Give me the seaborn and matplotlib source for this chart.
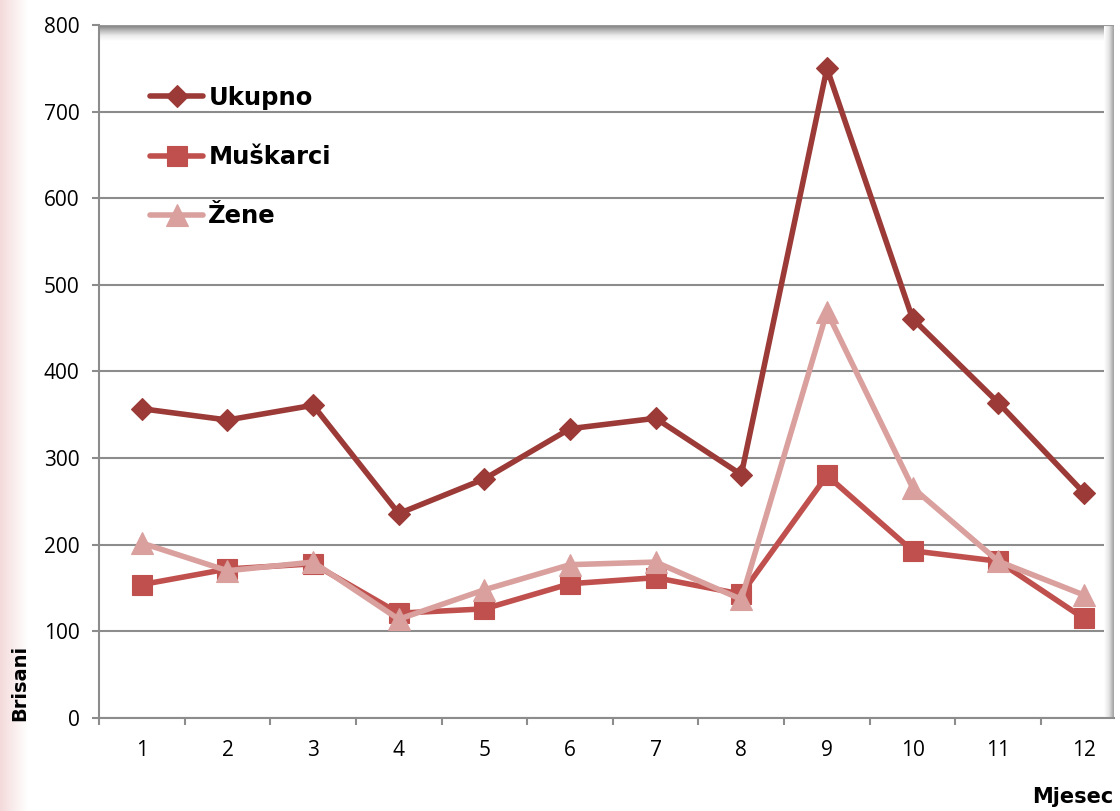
import numpy as np
import pandas as pd
import matplotlib
matplotlib.use("Agg")
import matplotlib.pyplot as plt
import seaborn as sns
from matplotlib.colors import LinearSegmentedColormap

months = list(range(1, 13))
month_labels = [str(m) for m in months]
ukupno = [357, 344, 361, 236, 276, 334, 346, 281, 750, 461, 364, 260]
muskarci = [154, 172, 178, 121, 126, 155, 162, 143, 280, 193, 181, 115]
zene = [202, 170, 180, 114, 148, 177, 180, 137, 469, 266, 181, 142]
series_names = ["Ukupno", "Muškarci", "Žene"]
y_ticks = [0, 100, 200, 300, 400, 500, 600, 700, 800]

sns.set_theme(style="white")
plt.rcParams["font.family"] = ["Open Sans", "DejaVu Sans"]
plt.rcParams["text.color"] = "black"

W, H = 1120, 811
fig = plt.figure(figsize=(W / 100, H / 100), dpi=100)

# left pink band
band = fig.add_axes([0, 0, 28 / W, 1])
g = np.linspace(0, 1, 100)[None, :]
pcmap = LinearSegmentedColormap.from_list("p", ["#f4dada", "#faeded", "#ffffff"])
band.imshow(g, cmap=pcmap, aspect="auto", extent=[0, 1, 0, 1])
band.set_axis_off()

ax_l, ax_r, ax_t, ax_b = 99, 1114, 25, 718
ax = fig.add_axes([ax_l / W, 1 - ax_b / H, (ax_r - ax_l) / W, (ax_b - ax_t) / H])

colors = ["#9b3a37", "#c0504d", "#d9a09e"]
markers = ["D", "s", "^"]
msizes = [11, 15, 16]
data = [ukupno, muskarci, zene]
for name, vals, c, m, ms in zip(series_names, data, colors, markers, msizes):
    sns.lineplot(x=months, y=vals, ax=ax, color=c, marker=m, markersize=ms,
                 markeredgecolor=c, markeredgewidth=0.8, linewidth=4.0,
                 label=name, zorder=3, solid_capstyle="round", solid_joinstyle="round")

x0 = 0.5
x1 = x0 + (ax_r - ax_l) / 85.64

grid_c = "#8c8c8c"
ax.set_yticks(y_ticks)
ax.set_yticklabels([str(v) for v in y_ticks])
ax.yaxis.grid(True, color=grid_c, linewidth=1.5, zorder=1)
ax.xaxis.grid(False)
ax.set_axisbelow(True)

ax.set_xticks(months)
ax.set_xticklabels(month_labels)
ax.set_xticks([i + 0.5 for i in range(0, 12)], minor=True)
ax.tick_params(axis="x", which="major", length=0, pad=16, labelsize=15, labelcolor="black")
ax.tick_params(axis="x", which="minor", length=5, width=1.5, color=grid_c, direction="out", bottom=True)
ax.tick_params(axis="y", which="major", length=5, width=1.5, color=grid_c, direction="out",
               left=True, pad=9, labelsize=15, labelcolor="black")

for s in ["left", "bottom"]:
    ax.spines[s].set_color(grid_c)
    ax.spines[s].set_linewidth(1.5)
ax.spines["top"].set_visible(False)
ax.spines["right"].set_visible(False)
ax.set_xlabel("")
ax.set_ylabel("")

# top shadow
gy = np.linspace(0, 1, 100)[:, None]
scmap = LinearSegmentedColormap.from_list("s", ["#7a7a7a", "#b8b8b8", "#ececec", "#ffffff"])
ax.imshow(gy, cmap=scmap, aspect="auto", extent=[0, 1, 1 - 16 / 693, 1],
          transform=ax.transAxes, zorder=1.5)
ax.axhline(800, color="#9a9a9a", linewidth=1.5, zorder=2)
# right shadow
gx = np.linspace(0, 1, 100)[None, :]
scmap2 = LinearSegmentedColormap.from_list("s2", ["#ffffff", "#e4e4e4", "#a0a0a0"])
ax.imshow(gx, cmap=scmap2, aspect="auto", extent=[1 - 10 / 1015, 1, 0, 1],
          transform=ax.transAxes, zorder=1.5)
ax.set_xlim(x0, x1)
ax.set_ylim(0, 800)

leg = ax.legend(loc="upper left", bbox_to_anchor=((150 - ax_l) / (ax_r - ax_l), (718 - 86) / 693),
                frameon=False, borderpad=0, borderaxespad=0, handlelength=2.2,
                handletextpad=0.2, labelspacing=1.45,
                prop={"family": "DejaVu Sans", "weight": "bold", "size": 17.5})
for t in leg.get_texts():
    t.set_color("black")

fig.text(20 / W, 1 - 721 / H, "Brisani", rotation=90, ha="center", va="bottom",
         fontsize=14, fontweight="bold", family="DejaVu Sans", color="black")
fig.text(1113 / W, 1 - 797 / H, "Mjesec", ha="right", va="center",
         fontsize=15, fontweight="bold", family="DejaVu Sans", color="black")

fig.savefig("out.png", dpi=100)
